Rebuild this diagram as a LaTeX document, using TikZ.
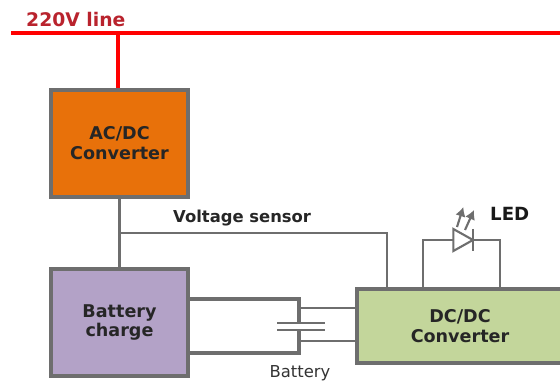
\documentclass[tikz,border=0pt]{standalone}
\usepackage{fontspec}
\setmainfont{DejaVu Sans}
\usepackage{tikz}
\usetikzlibrary{arrows,arrows.meta,calc,positioning}
\definecolor{lineared}{RGB}{255,0,0}
\definecolor{labelred}{RGB}{185,35,45}
\definecolor{wiregray}{RGB}{110,110,110}
\definecolor{acorange}{RGB}{232,113,10}
\definecolor{chargeviolet}{RGB}{179,162,199}
\definecolor{dcgreen}{RGB}{195,214,155}
\begin{document}
\begin{tikzpicture}[>={Latex[length=8pt,width=9pt]}, font=\fontsize{15}{17}\selectfont\bfseries,
  blocco/.style={draw=wiregray, line width=2.8pt, align=center, text=black!85},
  filo/.style={draw=wiregray, line width=1.8pt},
  filogrosso/.style={draw=wiregray, line width=2.8pt},
  rete/.style={draw=lineared, line width=2.8pt}]
\clip (0,0) rectangle (16.8,11.46);
\fill[white] (0,0) rectangle (16.8,11.46);
\node[blocco, fill=acorange, minimum width=4.11cm, minimum height=3.21cm] (acdc) at (3.585,7.155) {AC/DC\\Converter};
\node[blocco, fill=chargeviolet, minimum width=4.11cm, minimum height=3.21cm] (charge) at (3.585,1.785) {Battery\\charge};
\node[blocco, fill=dcgreen, minimum width=6.18cm, minimum height=2.22cm] (dcdc) at (13.8,1.68) {DC/DC\\Converter};
% linea di rete
\coordinate (lineL) at (0.33,10.47);
\coordinate (lineR) at (16.8,10.47);
\coordinate (tap) at (3.54,10.47);
\draw[rete] (lineL) -- (lineR);
\draw[rete, line width=3.8pt] (tap) -- (tap |- acdc.north);
\node[text=labelred, anchor=west, inner sep=0pt, font=\fontsize{16}{18}\selectfont\bfseries] (linelabel) at (0.78,10.88) {220V line};
% sensore di tensione
\draw[filogrosso, line width=3.4pt] (acdc.south) -- (charge.north);
\coordinate (tapS) at (3.585,4.47);
\coordinate (sensD) at (11.61,4.47);
\draw[filo] (tapS) -- (sensD) -- (sensD |- dcdc.north);
\node[anchor=west, inner sep=0pt, font=\fontsize{14}{16}\selectfont\bfseries, text=black!85] (sens) at (5.19,4.92) {Voltage sensor};
% LED
\coordinate (ledL) at (12.69,4.26);
\coordinate (ledR) at (15,4.26);
\coordinate (diodeA) at (13.6,4.26);
\coordinate (diodeK) at (14.19,4.26);
\draw[filo] (ledL |- dcdc.north) -- (ledL) -- (diodeA);
\draw[filo] (ledR |- dcdc.north) -- (ledR) -- (diodeK);
\draw[filo, fill=white] (13.6,4.59) -- (13.6,3.93) -- (diodeK) -- cycle;
\draw[filo] (14.19,4.59) -- (14.19,3.93);
\draw[->, filo] (13.71,4.65) -- (13.9,5.25);
\draw[->, filo] (13.95,4.56) -- (14.22,5.16);
\node[anchor=west, inner sep=0pt, text=black!90, font=\fontsize{15.5}{18}\selectfont\bfseries] (led) at (14.7,5.04) {LED};
% batteria
\coordinate (battT) at (8.97,2.49);
\coordinate (battB) at (8.97,0.87);
\draw[filogrosso] (battT -| charge.east) -- (battT) -- (8.97,1.77);
\draw[filogrosso] (battB -| charge.east) -- (battB) -- (8.97,1.56);
\draw[filo] (8.31,1.77) -- (9.75,1.77);
\draw[filo] (8.31,1.56) -- (9.75,1.56);
\coordinate (stubT) at (8.97,2.22);
\coordinate (stubB) at (8.97,1.23);
\draw[filo] (stubT) -- (stubT -| dcdc.west);
\draw[filo] (stubB) -- (stubB -| dcdc.west);
\node[font=\fontsize{14}{16}\selectfont, text=black!80, inner sep=0pt, anchor=south] (battlabel) at (9.0,0.02) {Battery};
\end{tikzpicture}
\end{document}
